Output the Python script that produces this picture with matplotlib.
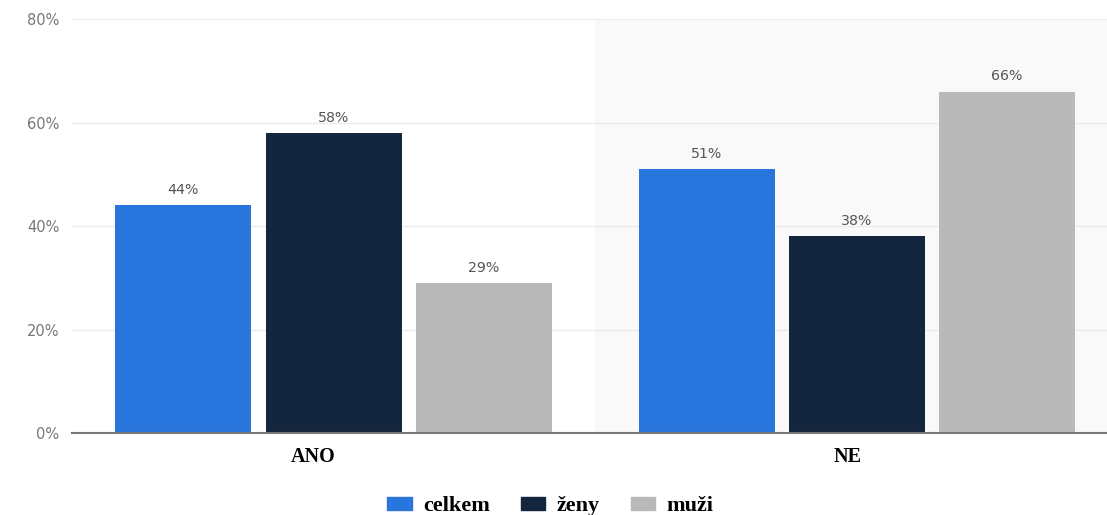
import matplotlib
matplotlib.use("Agg")
import matplotlib.pyplot as plt
from matplotlib.patches import FancyBboxPatch
from matplotlib.transforms import ScaledTranslation
import numpy as np

categories = ["ANO", "NE"]
series_names = ["celkem", "ženy", "muži"]
celkem = [44, 51]
zeny = [58, 38]
muzi = [29, 66]
yticks = [0, 20, 40, 60, 80]
colors = ["#2876dd", "#14263d", "#b9b9b9"]

fig = plt.figure(figsize=(11.07, 5.15), dpi=100)
ax = fig.add_axes([0.065, 0.159, 0.935, 0.804])

x = np.arange(len(categories))
w = 0.26
step = 0.287
ax.axvspan(0.5, 1.6, color="#f9f9f9", zorder=0, lw=0)
for i, (vals, col) in enumerate(zip([celkem, zeny, muzi], colors)):
    pos = x + (i - 1) * step
    bars = ax.bar(pos, vals, width=w, color=col, zorder=2)
    for b, v in zip(bars, vals):
        ax.text(b.get_x() + b.get_width() / 2, v + 1.6, f"{v}%", ha="center",
                va="bottom", fontsize=10.2, color="#555555", zorder=3)

ax.set_xlim(-0.5, 1.478)
ax.set_ylim(0, 80)
ax.set_yticks(yticks)
ax.set_yticklabels([f"{t}%" for t in yticks], color="#777777", fontsize=10.5)
ax.grid(axis="y", color="#ebebeb", lw=1, zorder=1)
ax.set_axisbelow(True)
for s in ["top", "right", "left"]:
    ax.spines[s].set_visible(False)
ax.spines["bottom"].set_color("#777777")
ax.spines["bottom"].set_linewidth(1.5)
ax.spines["bottom"].set_zorder(4)
ax.tick_params(axis="y", length=0, pad=9)
ax.tick_params(axis="x", length=0, pad=10)
ax.set_xticks(x)
ax.set_xticklabels(categories, fontfamily="Liberation Serif", fontweight="bold",
                   fontsize=14.5, color="#000000")
for lab, dx in zip(ax.get_xticklabels(), [-0.20, -0.09]):
    lab.set_transform(lab.get_transform() + ScaledTranslation(dx, 0, fig.dpi_scale_trans))

# legend
handles = [FancyBboxPatch((0, 0), 1, 1, boxstyle="round,pad=0.05", color=c) for c in colors]
leg = fig.legend(handles, series_names, loc="center", bbox_to_anchor=(0.497, 0.017),
                 ncol=3, frameon=False, handlelength=1.1, handleheight=0.55,
                 columnspacing=1.4, handletextpad=0.5,
                 prop={"family": "Liberation Serif", "weight": "bold", "size": 16})

fig.savefig("out.png", dpi=100)
